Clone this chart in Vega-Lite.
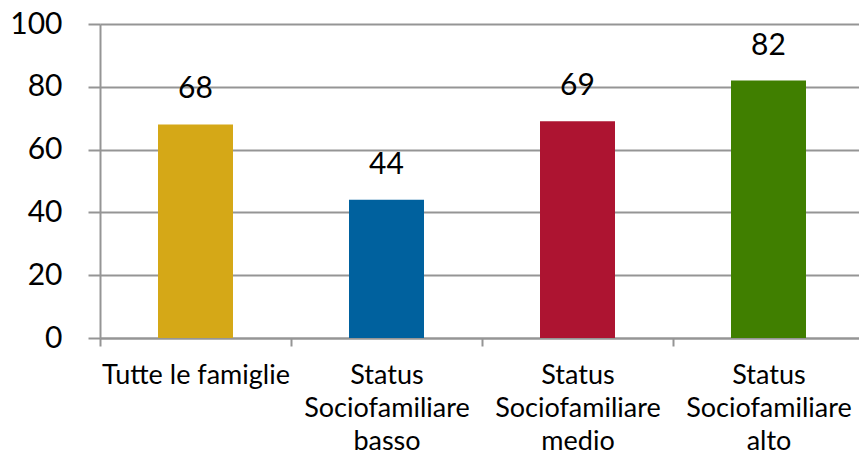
{
  "$schema": "https://vega.github.io/schema/vega-lite/v6.json",
  "autosize": "none",
  "padding": {"left": 100, "top": 24, "right": 0, "bottom": 116},
  "width": 764,
  "height": 314,
  "background": "white",
  "config": {"view": {"stroke": null}, "font": "Lato"},
  "data": {
    "values": [
      {"cat": "Tutte le famiglie", "value": 68, "color": "#D5A817"},
      {"cat": "Status|Sociofamiliare|basso", "value": 44, "color": "#00619E"},
      {"cat": "Status|Sociofamiliare|medio", "value": 69, "color": "#AD1431"},
      {"cat": "Status|Sociofamiliare|alto", "value": 82, "color": "#407F00"}
    ]
  },
  "encoding": {
    "x": {
      "field": "cat",
      "type": "nominal",
      "sort": null,
      "title": null,
      "scale": {"paddingInner": 0, "paddingOuter": 0},
      "axis": {
        "labelAngle": 0,
        "labelExpr": "split(datum.label, '|')",
        "labelFont": "Lato",
        "labelFontSize": 27,
        "labelColor": "#000000",
        "labelLineHeight": 33,
        "labelPadding": 16,
        "labelBaseline": "top",
        "labelLimit": 0,
        "tickBand": "extent",
        "tickSize": 8,
        "tickWidth": 2,
        "tickColor": "#959595",
        "domainColor": "#959595",
        "domainWidth": 2,
        "grid": false
      }
    },
    "y": {
      "field": "value",
      "type": "quantitative",
      "title": null,
      "scale": {"domain": [0, 100], "nice": false},
      "axis": {
        "values": [0, 20, 40, 60, 80, 100],
        "labelFont": "Lato",
        "labelFontSize": 30,
        "labelColor": "#000000",
        "labelPadding": 26,
        "tickSize": 12,
        "tickWidth": 2,
        "tickColor": "#959595",
        "domainColor": "#959595",
        "domainWidth": 2,
        "grid": true,
        "gridColor": "#959595",
        "gridWidth": 2
      }
    }
  },
  "layer": [
    {
      "mark": {"type": "bar", "size": 75},
      "encoding": {"color": {"field": "color", "type": "nominal", "scale": null}}
    },
    {
      "mark": {"type": "text", "baseline": "bottom", "dy": -20, "fontSize": 30, "font": "Lato", "color": "#000000"},
      "encoding": {"text": {"field": "value", "type": "quantitative"}}
    }
  ]
}
